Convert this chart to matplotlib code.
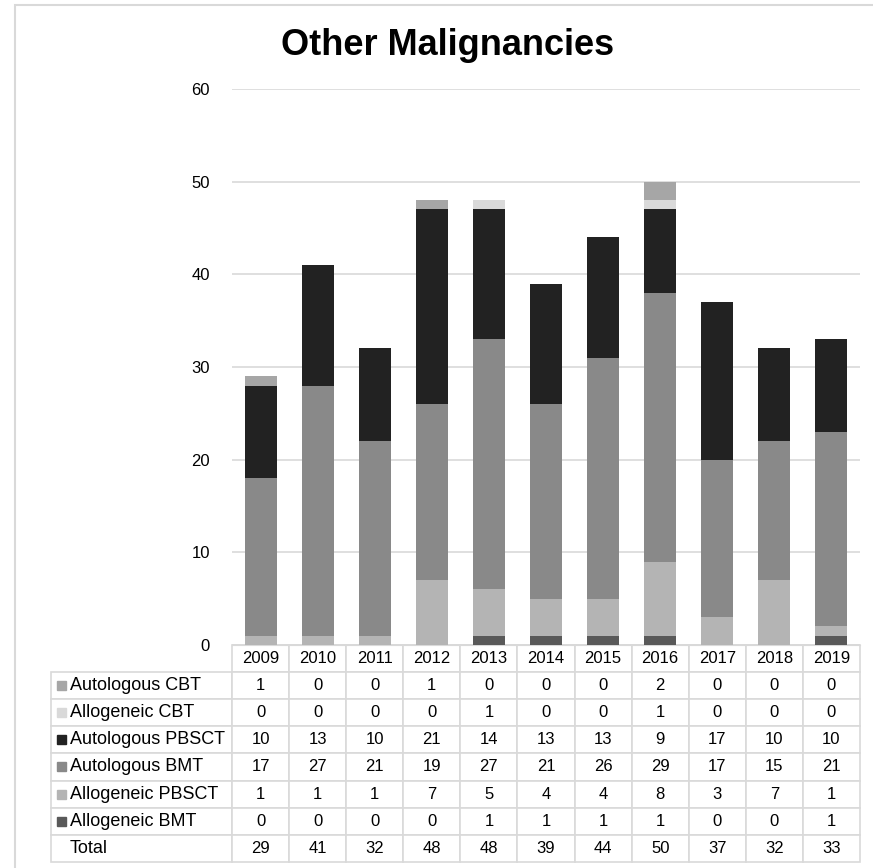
import numpy as np
import matplotlib.pyplot as plt
from matplotlib.patches import Rectangle

plt.rcParams['font.family'] = ['Liberation Sans', 'DejaVu Sans']

years = ['2009', '2010', '2011', '2012', '2013', '2014', '2015', '2016', '2017', '2018', '2019']

# series, bottom of stack first
allo_bmt = [0, 0, 0, 0, 1, 1, 1, 1, 0, 0, 1]
allo_pbsct = [1, 1, 1, 7, 5, 4, 4, 8, 3, 7, 1]
auto_bmt = [17, 27, 21, 19, 27, 21, 26, 29, 17, 15, 21]
auto_pbsct = [10, 13, 10, 21, 14, 13, 13, 9, 17, 10, 10]
allo_cbt = [0, 0, 0, 0, 1, 0, 0, 1, 0, 0, 0]
auto_cbt = [1, 0, 0, 1, 0, 0, 0, 2, 0, 0, 0]
totals = [29, 41, 32, 48, 48, 39, 44, 50, 37, 32, 33]

series = [
    ('Allogeneic BMT', allo_bmt, '#595959'),
    ('Allogeneic PBSCT', allo_pbsct, '#b4b4b4'),
    ('Autologous BMT', auto_bmt, '#898989'),
    ('Autologous PBSCT', auto_pbsct, '#222222'),
    ('Allogeneic CBT', allo_cbt, '#d9d9d9'),
    ('Autologous CBT', auto_cbt, '#a6a6a6'),
]

W, H = 873, 868
fig = plt.figure(figsize=(W / 100, H / 100), dpi=100)
ax = fig.add_axes([232 / W, (H - 645) / H, 628 / W, 556 / H])

x = np.arange(len(years))
bottom = np.zeros(len(years))
for name, vals, col in series:
    ax.bar(x, vals, 0.56, bottom=bottom, color=col, zorder=3)
    bottom += np.array(vals)

ax.set_xlim(-0.5, len(years) - 0.5)
ax.set_ylim(0, 60)
ax.set_yticks(range(0, 61, 10))
ax.yaxis.grid(True, color='#d9d9d9', linewidth=1.2, zorder=0)
ax.tick_params(axis='y', length=0, pad=16, labelsize=12)
ax.set_xticks([])
for s in ['top', 'right', 'left']:
    ax.spines[s].set_visible(False)
ax.spines['bottom'].set_color('#d9d9d9')

# data table below the chart
rows = list(reversed(series))
cell_text = [[name] + [str(v) for v in vals] for name, vals, col in rows]
cell_text.append(['Total'] + [str(v) for v in totals])
label_w = 181 / 628
col_w = 1 / 11
tbl = ax.table(cellText=cell_text, colLabels=[''] + years,
               colWidths=[label_w] + [col_w] * 11,
               cellLoc='center', bbox=[-label_w, -0.39, 1 + label_w, 0.39])
tbl.auto_set_font_size(False)
tbl.set_fontsize(12)
for (r, c), cell in tbl.get_celld().items():
    cell.set_edgecolor('#d9d9d9')
    cell.set_linewidth(1.2)
    if c == 0:
        cell.set_text_props(ha='left', fontsize=13)
        cell.PAD = 0.105
    if r == 0 and c == 0:
        cell.visible_edges = ''

# legend keys in the label column
row_h = 0.39 / 8
for i, (name, vals, col) in enumerate(rows):
    yc = -row_h * (i + 1.5)
    ax.add_patch(Rectangle((-label_w + 6 / 628, yc - 4.5 / 556), 9 / 628, 9 / 556,
                           transform=ax.transAxes, color=col, clip_on=False))

fig.text(448 / W, 1 - 55 / H, 'Other Malignancies', ha='center', va='baseline',
         fontsize=26, fontweight='bold')

# light frame around the chart area
fig.patches.append(Rectangle((15 / W, -0.05), 1.0, 1 - 5 / H + 0.05,
                             transform=fig.transFigure, fill=False,
                             edgecolor='#d9d9d9', linewidth=1.5))

fig.savefig('out.png', dpi=100)
